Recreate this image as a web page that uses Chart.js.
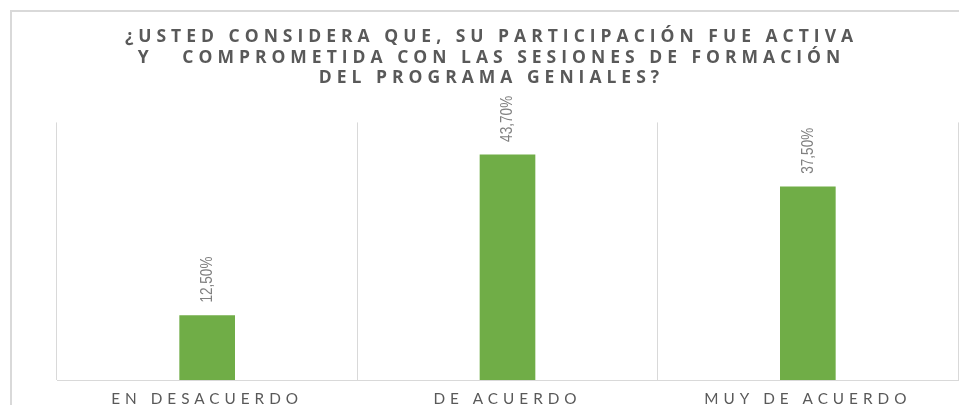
<!DOCTYPE html>
<html><head><meta charset="utf-8">
<script src="https://cdn.jsdelivr.net/npm/chart.js@4.4.1/dist/chart.umd.min.js"></script>
<style>html,body{margin:0;padding:0;background:#fff;overflow:hidden}</style>
</head><body>
<canvas id="c" width="959" height="405"></canvas>
<script>
const titleLines = ['¿USTED CONSIDERA QUE, SU PARTICIPACIÓN FUE ACTIVA', 'Y   COMPROMETIDA CON LAS SESIONES DE FORMACIÓN', 'DEL PROGRAMA GENIALES?'];
const categories = ['EN DESACUERDO', 'DE ACUERDO', 'MUY DE ACUERDO'];
const values = [12.5, 43.7, 37.5];
const valueLabels = ['12,50%', '43,70%', '37,50%'];
const yMin = 0, yMax = 50;

const frameAndText = {
  id: 'frameAndText',
  beforeDraw(chart) {
    const ctx = chart.ctx;
    ctx.save();
    ctx.fillStyle = '#ffffff';
    ctx.fillRect(0, 0, chart.width, chart.height);
    ctx.fillStyle = '#d9d9d9';
    ctx.fillRect(10, 10, 2, chart.height - 10);
    ctx.fillRect(10, 10, chart.width - 10, 2);
    ctx.restore();
    ctx.letterSpacing = '5px';
  },
  beforeDatasetsDraw(chart) { chart.ctx.letterSpacing = '0px'; },
  afterDatasetsDraw(chart) {
    const ctx = chart.ctx;
    const meta = chart.getDatasetMeta(0);
    ctx.save();
    ctx.letterSpacing = '0px';
    ctx.fillStyle = '#808080';
    ctx.font = '17px "Liberation Sans", Arial, sans-serif';
    ctx.textAlign = 'left';
    ctx.textBaseline = 'middle';
    meta.data.forEach((bar, i) => {
      ctx.save();
      ctx.translate(bar.x, bar.y - 13);
      ctx.rotate(-Math.PI / 2);
      ctx.scale(0.8, 1);
      ctx.fillText(valueLabels[i], 0, 0);
      ctx.restore();
    });
    ctx.restore();
    ctx.letterSpacing = '5px';
  },
  afterDraw(chart) { chart.ctx.letterSpacing = '0px'; }
};

new Chart(document.getElementById('c'), {
  type: 'bar',
  data: {
    labels: categories,
    datasets: [{ data: values, backgroundColor: '#70ad47', borderWidth: 0, barThickness: 55 }]
  },
  options: {
    responsive: false,
    animation: false,
    devicePixelRatio: 1,
    layout: { padding: { left: 25, right: 1, top: 0, bottom: 0 } },
    plugins: {
      legend: { display: false },
      tooltip: { enabled: false },
      title: {
        display: true,
        text: titleLines,
        color: '#595959',
        font: { family: '"Open Sans", Lato, sans-serif', size: 17.5, weight: 'bold', lineHeight: 1.17 },
        padding: { top: 27, bottom: 34 }
      }
    },
    scales: {
      x: {
        z: 1,
        grid: { color: '#d9d9d9', lineWidth: 1, drawTicks: false, offset: true },
        border: { color: '#d9d9d9', width: 1 },
        ticks: { color: '#595959', font: { family: 'Lato, "Open Sans", sans-serif', size: 15.3 }, padding: 10, autoSkip: false, maxRotation: 0 },
        afterFit(scale) { scale.height = 25; }
      },
      y: {
        min: yMin, max: yMax,
        ticks: { display: false },
        grid: { display: false },
        border: { display: false },
        afterFit(scale) { scale.width = 32; }
      }
    }
  },
  plugins: [frameAndText]
});
</script>
</body></html>
